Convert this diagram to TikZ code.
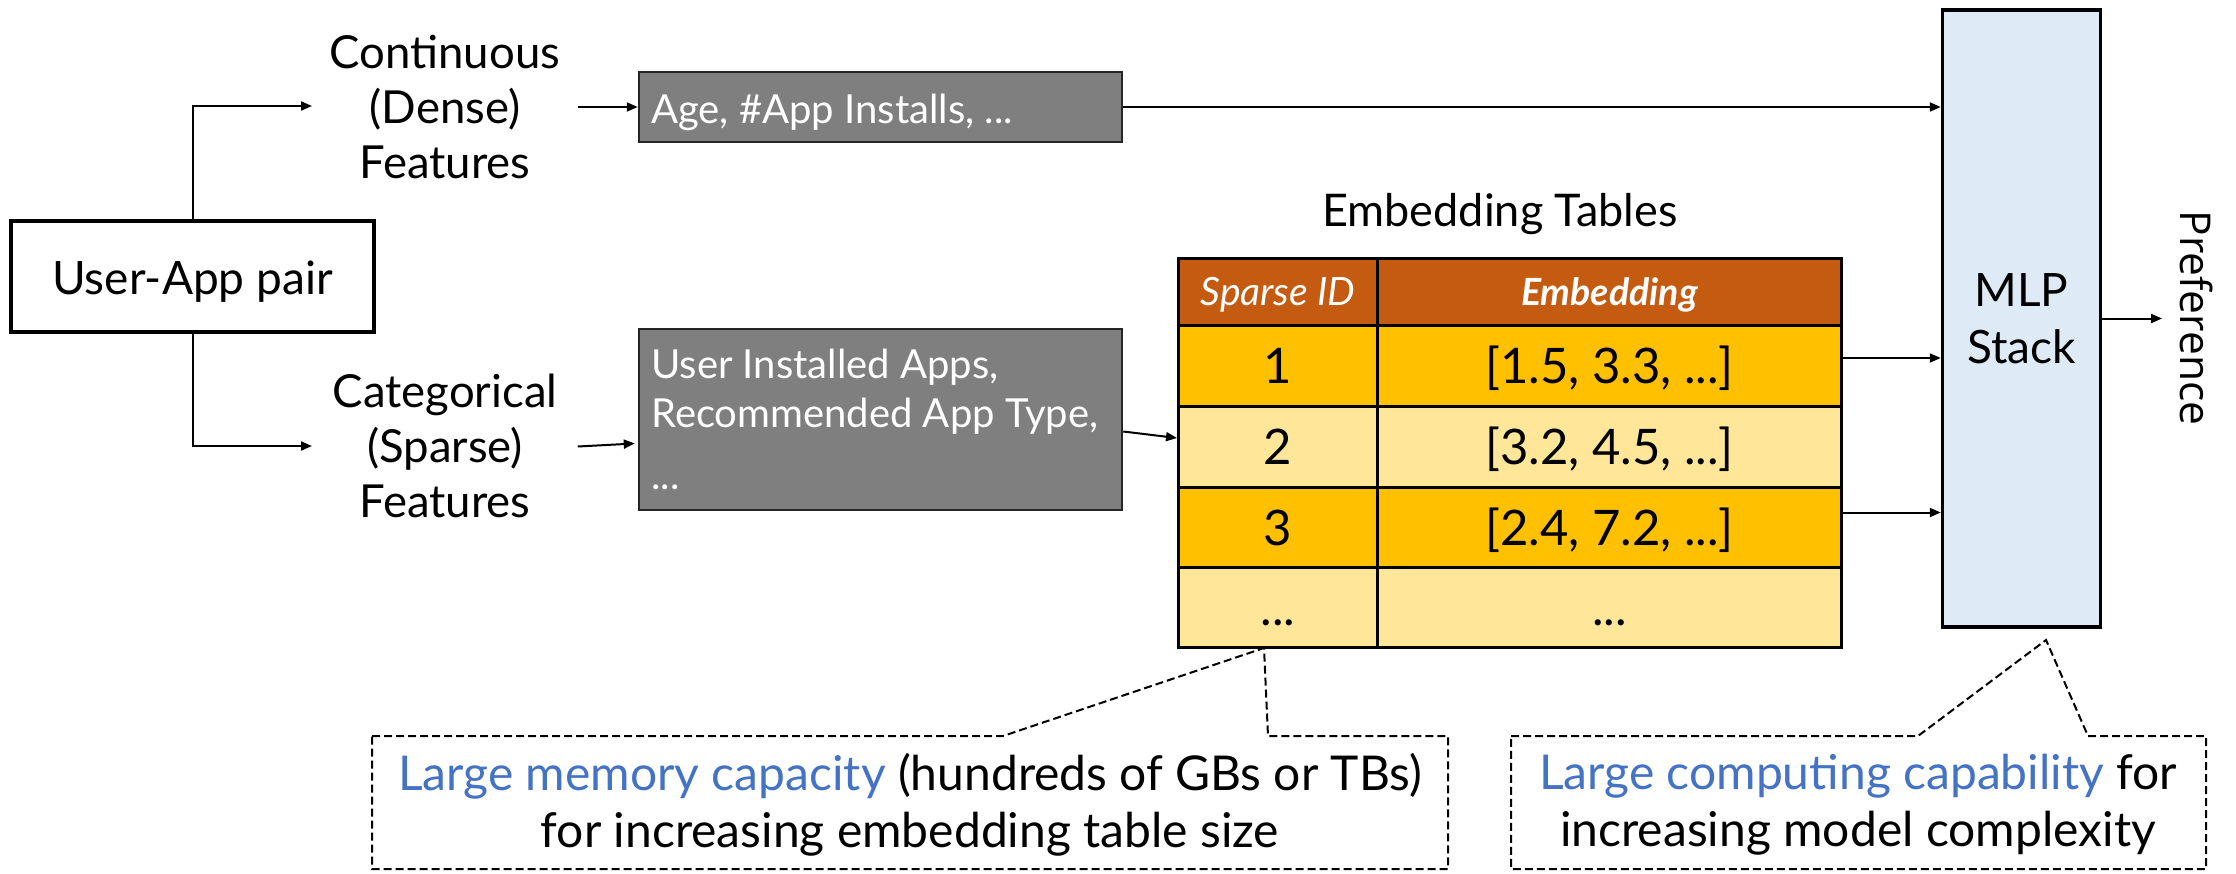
\documentclass[tikz,border=0pt]{standalone}
\usepackage{fontspec}
\setmainfont{Lato}
\newfontfamily\preffont{Open Sans}
\usetikzlibrary{arrows.meta,calc}

\definecolor{greybox}{HTML}{7F7F7F}
\definecolor{hdrfill}{HTML}{C55A11}
\definecolor{rowdark}{HTML}{FFC000}
\definecolor{rowlight}{HTML}{FFE699}
\definecolor{mlpfill}{HTML}{DEEBF7}
\definecolor{accent}{HTML}{4472C4}

\begin{document}
\begin{tikzpicture}[x=1pt,y=-1pt,
  arr/.style={line width=2pt,-{Triangle[length=11pt,width=9pt]}},
  lbl/.style={align=center,inner sep=0pt,font=\fontsize{45.5}{55}\selectfont},
  featbox/.style={draw=black!85,line width=2.5pt,fill=greybox,inner sep=0pt},
  feattext/.style={anchor=base west,inner sep=0pt,text=white,font=\fontsize{40}{48}\selectfont},
  cell/.style={draw,line width=3pt,inner sep=0pt,anchor=north west},
  hdrcell/.style={cell,fill=hdrfill,text=white,minimum height=67pt,
    text height=27pt,text depth=0pt,font=\fontsize{39}{46}\selectfont\itshape},
  bodycell/.style={cell,minimum height=81pt,text height=35pt,text depth=0pt,
    font=\fontsize{49}{58}\selectfont},
  colA/.style={minimum width=199pt},
  colB/.style={minimum width=464pt},
  callout/.style={draw,line width=2pt,dash pattern=on 8pt off 4pt},
  calltext/.style={align=center,inner sep=0pt,font=\fontsize{48}{57}\selectfont}
]
\useasboundingbox (0,0) rectangle (2236,873);

% input pair
\node[draw,line width=3.5pt,minimum width=363pt,minimum height=111pt,inner sep=0pt,
      text height=36pt,text depth=0pt,font=\fontsize{46}{55}\selectfont]
  (pair) at (192.5,276.5) {User-App pair};

% feature kinds
\node[lbl] (cont) at (445,107) {Continuous\\(Dense)\\Features};
\node[lbl] (cat) at (445,446) {Categorical\\(Sparse)\\Features};
\coordinate (dtip) at (312,106);
\coordinate (stip) at (312,446);
\draw[arr] (pair.north) |- (dtip);
\draw[arr] (pair.south) |- (stip);

% feature examples
\node[featbox,minimum width=483pt,minimum height=70pt] (age) at (880.5,107) {};
\node[feattext] (agetxt) at (651,123) {Age, \#App Installs, ...};
\node[featbox,minimum width=483pt,minimum height=181pt] (sparse) at (880.5,419.5) {};
\node[feattext] (sp1) at (651,378) {User Installed Apps,};
\node[feattext] (sp2) at (651,427) {Recommended App Type,};
\node[feattext] (sp3) at (651,489) {...};

\draw[arr] ($(age.west)+(-60,0)$) -- (age.west);
\draw[arr] ($(sparse.west)+(-60,27)$) -- ($(sparse.west)+(-3,24)$);

% embedding table
\node[font=\fontsize{45}{54}\selectfont,inner sep=0pt] (ettitle) at (1500,214) {Embedding Tables};
\node[hdrcell,colA] (ha) at (1177,257) {Sparse ID};
\node[hdrcell,colB,font=\fontsize{37.5}{45}\selectfont\bfseries\itshape] (hb) at (1376,257) {Embedding};
\node[bodycell,colA,fill=rowdark] (r1a) at (1177,324) {1};
\node[bodycell,colB,fill=rowdark] (r1b) at (1376,324) {[1.5, 3.3, ...]};
\node[bodycell,colA,fill=rowlight] (r2a) at (1177,405) {2};
\node[bodycell,colB,fill=rowlight] (r2b) at (1376,405) {[3.2, 4.5, ...]};
\node[bodycell,colA,fill=rowdark,minimum height=80pt] (r3a) at (1177,486) {3};
\node[bodycell,colB,fill=rowdark,minimum height=80pt] (r3b) at (1376,486) {[2.4, 7.2, ...]};
\node[bodycell,colA,fill=rowlight,minimum height=80pt] (r4a) at (1177,566) {...};
\node[bodycell,colB,fill=rowlight,minimum height=80pt] (r4b) at (1376,566) {...};

\draw[arr] ($(sparse.east)+(0,12)$) -- ($(r2a.west)+(0,-9)$);

% MLP stack
\node[draw,line width=3.5pt,fill=mlpfill,minimum width=158pt,minimum height=617pt,
      inner sep=0pt,align=center,font=\fontsize{46}{57}\selectfont]
  (mlp) at (2021.5,318.5) {MLP\\Stack};

\draw[arr] (age.east) -- (age.east -| mlp.west);
\draw[arr] ($(r1b.east)+(0,-8)$) coordinate (e1) -- (e1 -| mlp.west);
\draw[arr] ($(r3b.east)+(0,-15)$) coordinate (e3) -- (e3 -| mlp.west);

\node[rotate=-90,inner sep=0pt,font=\preffont\fontsize{42.5}{50}\selectfont] (pref) at (2197,318) {Preference};
\coordinate (ptip) at (2162,318.5);
\draw[arr] (mlp.east) -- (ptip);

% callouts
\coordinate (tipL) at (1264,648);
\coordinate (tipR) at (2046,640);
\draw[callout] (372,736) -- (1003,736) -- (tipL) -- (1268,736) -- (1448,736)
  -- (1448,869) -- (372,869) -- cycle;
\draw[callout] (1511,736) -- (1918,736) -- (tipR) -- (2088,736) -- (2206,736)
  -- (2206,869) -- (1511,869) -- cycle;

\node[calltext] (memtxt) at (910,805)
  {\textcolor{accent}{Large memory capacity} (hundreds of GBs or TBs)\\for increasing embedding table size};
\node[calltext] (comptxt) at (1858,805)
  {\textcolor{accent}{Large computing capability} for\\increasing model complexity};
\end{tikzpicture}
\end{document}
